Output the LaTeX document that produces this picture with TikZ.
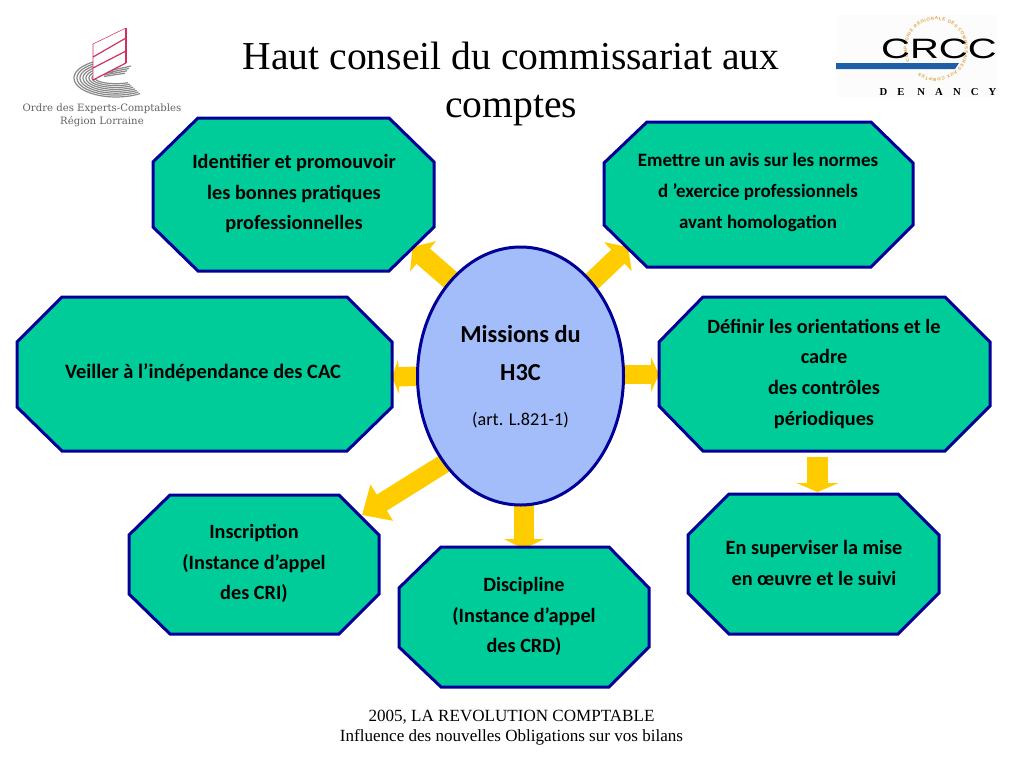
\documentclass[tikz,border=0pt]{standalone}
\usepackage{fontspec}
\usepackage{graphicx}
\setmainfont{Liberation Serif}
\newfontfamily\bodyfont{Carlito}
\newfontfamily\logoserif{DejaVu Serif}
\newfontfamily\logosans{Liberation Sans}
\usetikzlibrary{arrows.meta,calc,shapes.geometric,decorations.text}
\definecolor{octfill}{HTML}{00CC99}
\definecolor{navyline}{HTML}{000099}
\definecolor{arrowgold}{HTML}{FFCC00}
\definecolor{ellfill}{HTML}{A3BDFB}
\definecolor{logopink}{HTML}{D0305F}
\definecolor{logogrey}{HTML}{8A8A8A}
\definecolor{crccblue}{HTML}{1F5FA8}
\definecolor{ringgold}{HTML}{DDA545}
\tikzset{
  octshape/.style={draw=navyline,fill=octfill,line width=2.25pt,line join=miter},
  octtext/.style={inner sep=0pt,align=center,text=black,font=\bodyfont\bfseries\fontsize{#1}{23pt}\selectfont},
  blockarrow/.style={draw=arrowgold,line cap=butt},
  ovalshape/.style={ellipse,minimum width=154.5pt,minimum height=193.5pt,inner sep=0pt},
  plain/.style={inner sep=0pt,align=center}
}
% x0 x1 y0 y1 xa xb ya yb
\newcommand{\octagon}[8]{\draw[octshape] (#5,#3)--(#6,#3)--(#2,#7)--(#2,#8)--(#6,#4)--(#5,#4)--(#1,#8)--(#1,#7)--cycle;}
\begin{document}
\begin{tikzpicture}[x=.75pt,y=-.75pt]
\useasboundingbox (0,0) rectangle (1024,768);
% left logo
\foreach \i in {0,...,7}{
  \draw[logogrey,line width=.9pt] plot[domain=55:262,samples=40,smooth] ({116+(42-\i*3)*cos(\x)},{78+(19-\i*1.9)*sin(\x)});
}
\foreach \i in {0,...,3}{
  \draw[logogrey,line width=.9pt] (104,{72+\i*1.5}) -- ({131-\i*2},{66+\i*2.4});
}
\path[fill=white] (93,44)--(126,28)--(126,63)--(93,80)--cycle;
\draw[logopink,line width=.4pt] (93,44)--(126,28) (93,44)--(93,80);
\draw[logopink,line width=.9pt] (93,57)--(126,38) (93,68)--(126,51) (93,80)--(126,63);
\draw[logopink,line width=1.5pt] (125.5,28)--(125.5,63);
\node[plain,text=black!62,font=\logoserif\fontsize{7.6}{9.7pt}\selectfont] (ordre) at (102,115.5) {Ordre des Experts-Comptables\\Région Lorraine};
% right logo
\fill[black!1] (836,15) rectangle (998,97);
\begin{scope}[shift={(936,49)},x=1pt,y=1pt]
\path[decorate,decoration={text along path,text align={fit to path},text={|\logosans\fontsize{3.4}{4}\selectfont\bfseries\color{ringgold}|COMPAGNIE REGIONALE DES COMMISSAIRES AUX COMPTES}}]
  (205:21.75pt) arc[start angle=205,end angle=-125,radius=21.75pt];
\end{scope}
\node[plain,font=\logosans\fontsize{21}{21}\selectfont,text=black] (crcc) at (939,49) {\scalebox{1.43}[1]{CRCC}};
\fill[crccblue] (836,63)--(959,63)--(955,69)--(836,69)--cycle;
\node[plain,font=\bfseries\fontsize{8}{8}\selectfont\addfontfeature{LetterSpace=95},text=black] (nancy) at (938,92.5) {DE NANCY};
% title and footer
\node[plain,font=\fontsize{29.7}{36pt}\selectfont] (title) at (511,84) {Haut conseil du commissariat aux\\comptes};
\node[plain,font=\fontsize{12.8}{15pt}\selectfont] (foot) at (511.5,728) {2005, LA REVOLUTION COMPTABLE\\Influence des nouvelles Obligations sur vos bilans};
% anchors
\coordinate (t1) at (412.6,247);
\coordinate (t2) at (628,247);
\coordinate (t3) at (392,377);
\coordinate (t4) at (659,374.5);
\coordinate (t5) at (362,515);
\coordinate (t6) at (524,549);
\coordinate (s7) at (817.5,457);
\coordinate (t7) at (817.5,492);
\node[ovalshape] (mis) at (520.5,376) {};
% connectors (behind the shapes)
\draw[blockarrow,line width=15.2pt,-{Triangle[width=29.5pt,length=10.5pt]}] ($(mis.126)!-8pt!(t1)$) -- (t1);
\draw[blockarrow,line width=14.5pt,-{Triangle[width=29.5pt,length=10.5pt]}] ($(mis.53)!-8pt!(t2)$) -- (t2);
\draw[blockarrow,line width=14.6pt,-{Triangle[width=26pt,length=5pt]}] ($(mis.180)+(8,0)$) -- (t3);
\draw[blockarrow,line width=14.3pt,-{Triangle[width=26pt,length=6pt]}] ($(mis.0 |- t4)+(-8,0)$) -- (t4);
\draw[blockarrow,line width=14.2pt,-{Triangle[width=31pt,length=17.5pt]}] ($(mis.229)!-8pt!(t5)$) -- (t5);
\draw[blockarrow,line width=15.4pt,-{Triangle[width=30pt,length=7.5pt]}] ($(t6 |- mis.south)+(0,-8)$) -- (t6);
\draw[blockarrow,line width=15.7pt,-{Triangle[width=31.5pt,length=6.75pt]}] (s7) -- (t7);
\node[ovalshape,draw=navyline,fill=ellfill,line width=2.25pt] (misshape) at (mis) {};
\node[inner sep=0pt,align=center,font=\bodyfont\bfseries\fontsize{18.3}{28.5pt}\selectfont] (misA) at (520.5,353) {Missions du\\H3C};
\node[inner sep=0pt,font=\bodyfont\fontsize{13.6}{14pt}\selectfont] (misB) at (520.5,420) {(art. L.821-1)};
% octagons
\octagon{153}{434}{118}{271}{198}{389}{162}{227}
\node[octtext=15.2] (o1) at (294,193.5) {Identifier et promouvoir\\les bonnes pratiques\\professionnelles};
\octagon{604}{913}{122}{267}{647}{871}{163}{225}
\node[octtext=14.2] (o2) at (758,192.5) {Emettre un avis sur les normes\\d ’exercice professionnels\\avant homologation};
\octagon{17}{392}{297}{451}{62}{347}{342}{407}
\node[octtext=15.3] (o3) at (203,373) {Veiller à l’indépendance des CAC};
\octagon{659}{990}{297}{451}{703}{945}{342}{406}
\node[octtext=15.2] (o4) at (824,373.5) {Définir les orientations et le\\cadre\\des contrôles\\périodiques};
\octagon{129}{379}{495}{634}{170}{339}{535}{594}
\node[octtext=15.2] (o5) at (254,563.5) {Inscription\\(Instance d’appel\\des CRI)};
\octagon{399}{649}{547}{687}{441}{609}{588}{647}
\node[octtext=15.2] (o6) at (524,616.5) {Discipline\\(Instance d’appel\\des CRD)};
\octagon{688}{939}{494}{634}{729}{898}{535}{593}
\node[octtext=15.2] (o7) at (814,563) {En superviser la mise\\en œuvre et le suivi};
\end{tikzpicture}
\end{document}
